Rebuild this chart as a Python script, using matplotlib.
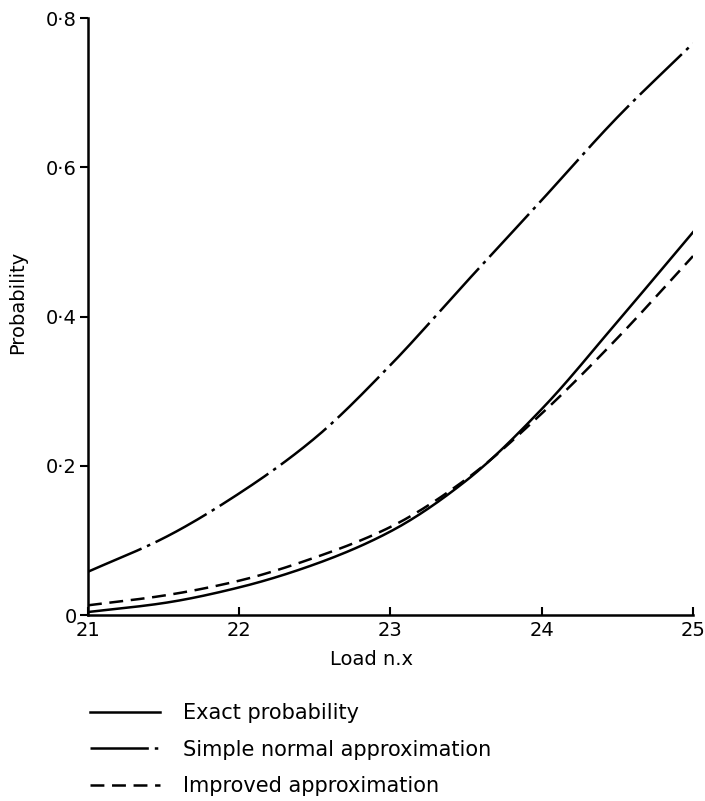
import matplotlib
matplotlib.use("Agg")
import matplotlib.pyplot as plt
import numpy as np

plt.rcParams['font.family'] = ['DejaVu Sans']
plt.rcParams['lines.scale_dashes'] = False

# Data
load = [21.0, 21.5, 22.0, 22.5, 23.0, 23.5, 24.0, 24.5, 25.0]
exact = [0.004, 0.016, 0.037, 0.068, 0.112, 0.180, 0.276, 0.393, 0.513]
simple_normal = [0.058, 0.103, 0.163, 0.237, 0.335, 0.446, 0.556, 0.667, 0.766]
improved = [0.013, 0.026, 0.046, 0.077, 0.118, 0.182, 0.270, 0.371, 0.481]

x_ticks = [21, 22, 23, 24, 25]
y_ticks = [0, 0.2, 0.4, 0.6, 0.8]
y_tick_labels = ['0', '0·2', '0·4', '0·6', '0·8']

series_labels = ['Exact probability', 'Simple normal approximation', 'Improved approximation']


def smooth(xs, ys, n=200):
    xs = np.asarray(xs)
    ys = np.asarray(ys)
    xf = np.linspace(xs[0], xs[-1], n)
    # monotone cubic Hermite curve through the read points
    h = np.diff(xs)
    d = np.diff(ys) / h
    m = np.zeros_like(ys)
    m[1:-1] = np.where(d[:-1] * d[1:] > 0, 2 / (1 / d[:-1] + 1 / d[1:]), 0)
    m[0] = d[0]
    m[-1] = d[-1]
    yf = np.empty_like(xf)
    idx = np.clip(np.searchsorted(xs, xf) - 1, 0, len(xs) - 2)
    for j, xv in enumerate(xf):
        i = idx[j]
        t = (xv - xs[i]) / h[i]
        h00 = 2 * t**3 - 3 * t**2 + 1
        h10 = t**3 - 2 * t**2 + t
        h01 = -2 * t**3 + 3 * t**2
        h11 = t**3 - t**2
        yf[j] = h00 * ys[i] + h10 * h[i] * m[i] + h01 * ys[i + 1] + h11 * h[i] * m[i + 1]
    return xf, yf


fig = plt.figure(figsize=(7.05, 8.01), dpi=100)
ax = fig.add_axes([0.1248, 0.2322, 0.8582, 0.7453])

lw = 1.8
xs, ys = smooth(load, exact)
l1, = ax.plot(xs, ys, color='black', lw=lw, linestyle='-', label=series_labels[0])
xs, ys = smooth(load, simple_normal)
l2, = ax.plot(xs, ys, color='black', lw=lw, linestyle=(0, (42, 4.3, 2.5, 4.3)), label=series_labels[1])
xs, ys = smooth(load, improved)
l3, = ax.plot(xs, ys, color='black', lw=lw, linestyle=(0, (10, 5.5)), label=series_labels[2])

ax.set_xlim(21, 25)
ax.set_ylim(0, 0.8)
ax.set_xticks(x_ticks)
ax.set_xticklabels([str(t) for t in x_ticks])
ax.set_yticks(y_ticks)
ax.set_yticklabels(y_tick_labels)

for s in ['top', 'right']:
    ax.spines[s].set_visible(False)
for s in ['left', 'bottom']:
    ax.spines[s].set_linewidth(1.8)

ax.tick_params(axis='x', direction='in', length=6, width=1.5, labelsize=14, pad=4)
ax.tick_params(axis='y', direction='out', length=6, width=1.5, labelsize=14, pad=2)

ax.set_xlabel('Load n.x', fontsize=14)
ax.xaxis.set_label_coords(0.469, -0.058)
ax.set_ylabel('Probability', fontsize=14)
ax.yaxis.set_label_coords(-0.1, 0.523)

fig.legend(handles=[l1, l2, l3], labels=series_labels, loc='upper left',
           bbox_to_anchor=(0.128, 0.1225), frameon=False, fontsize=15,
           handlelength=3.36, handletextpad=1.1, labelspacing=0.8,
           borderaxespad=0, borderpad=0)

fig.savefig('out.png', dpi=100)
